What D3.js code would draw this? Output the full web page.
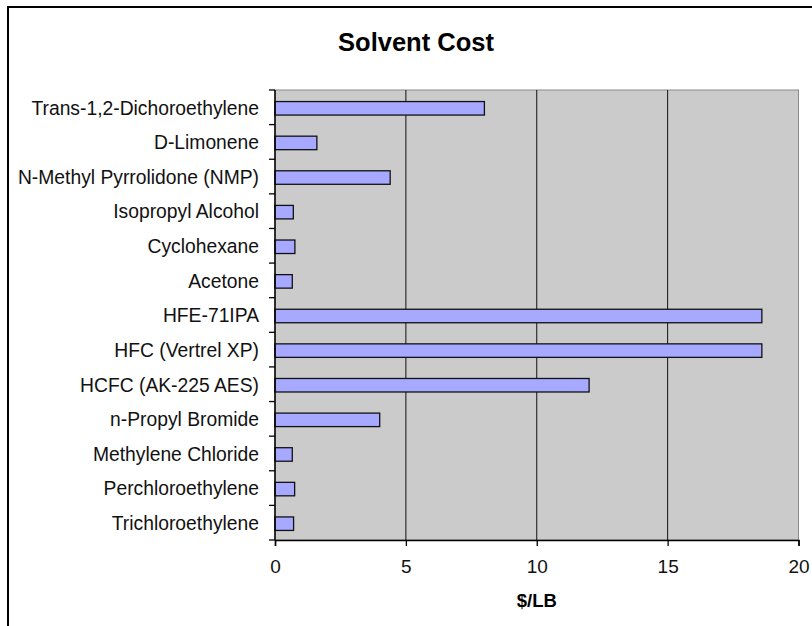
<!DOCTYPE html>
<html>
<head>
<meta charset="utf-8">
<script src="https://cdn.jsdelivr.net/npm/d3@7"></script>
<style>
  html, body { margin: 0; padding: 0; background: #fff; }
  svg { display: block; font-family: "Liberation Sans", Arial, sans-serif; }
</style>
</head>
<body>
<svg id="chart" width="812" height="626"></svg>
<script>
const categories = [
  "Trans-1,2-Dichoroethylene",
  "D-Limonene",
  "N-Methyl Pyrrolidone (NMP)",
  "Isopropyl Alcohol",
  "Cyclohexane",
  "Acetone",
  "HFE-71IPA",
  "HFC (Vertrel XP)",
  "HCFC (AK-225 AES)",
  "n-Propyl Bromide",
  "Methylene Chloride",
  "Perchloroethylene",
  "Trichloroethylene"
];
const costValues = [8.0, 1.6, 4.4, 0.70, 0.76, 0.66, 18.6, 18.6, 12.0, 4.0, 0.66, 0.75, 0.71];
const xTickValues = [0, 5, 10, 15, 20];
const titleText = "Solvent Cost";
const xAxisTitle = "$/LB";

const svg = d3.select("#chart");
const plot = { left: 275, right: 798.5, top: 90, bottom: 540 };

// chart-area border
svg.append("rect")
  .attr("x", 8).attr("y", 7).attr("width", 830).attr("height", 640)
  .attr("fill", "#fff").attr("stroke", "#000").attr("stroke-width", 2);

const x = d3.scaleLinear().domain([0, 20]).range([plot.left, plot.right]);
const y = d3.scaleBand().domain(categories).range([plot.top, plot.bottom]).padding(0);

// plot background
svg.append("rect")
  .attr("x", plot.left).attr("y", plot.top)
  .attr("width", plot.right - plot.left).attr("height", plot.bottom - plot.top)
  .attr("fill", "#cbcbcb").attr("stroke", "#8a8a8a").attr("stroke-width", 1);

// vertical gridlines
svg.append("g").selectAll("line")
  .data(xTickValues.filter(d => d > 0 && d < 20))
  .join("line")
  .attr("x1", d => x(d)).attr("x2", d => x(d))
  .attr("y1", plot.top).attr("y2", plot.bottom)
  .attr("stroke", "#111").attr("stroke-width", 1);

// bars
const barH = y.bandwidth() * 0.39;
svg.append("g").selectAll("rect")
  .data(categories.map((c, i) => ({ c, v: costValues[i] })))
  .join("rect")
  .attr("x", x(0))
  .attr("y", d => y(d.c) + (y.bandwidth() - barH) / 2 + 1)
  .attr("width", d => x(d.v) - x(0))
  .attr("height", barH)
  .attr("fill", "#a6a9ff")
  .attr("stroke", "#111")
  .attr("stroke-width", 1.3);

// y axis (ticks at category boundaries)
const yBoundaries = categories.map(c => y(c)).concat([plot.bottom]);
const yAxisG = svg.append("g");
yAxisG.append("line")
  .attr("x1", plot.left).attr("x2", plot.left)
  .attr("y1", plot.top).attr("y2", plot.bottom)
  .attr("stroke", "#000").attr("stroke-width", 1.5);
yAxisG.selectAll("line.tick").data(yBoundaries).join("line")
  .attr("class", "tick")
  .attr("x1", plot.left - 6).attr("x2", plot.left)
  .attr("y1", d => d).attr("y2", d => d)
  .attr("stroke", "#000").attr("stroke-width", 1.3);
yAxisG.selectAll("text").data(categories).join("text")
  .attr("x", plot.left - 16)
  .attr("y", d => y(d) + y.bandwidth() / 2)
  .attr("dy", "0.38em")
  .attr("text-anchor", "end")
  .attr("font-size", 19.3)
  .attr("fill", "#111")
  .text(d => d);

// x axis
const xAxis = d3.axisBottom(x).tickValues(xTickValues).tickSize(6).tickPadding(14).tickFormat(d3.format("d"));
const xg = svg.append("g").attr("transform", `translate(0,${plot.bottom})`).call(xAxis);
xg.select(".domain").attr("stroke", "#000").attr("stroke-width", 1.5);
xg.selectAll(".tick line").attr("stroke", "#000").attr("stroke-width", 1.3);
xg.selectAll(".tick text").attr("font-size", 19).attr("fill", "#111")
  .attr("font-family", "Liberation Sans, Arial, sans-serif");

// titles
svg.append("text")
  .attr("x", 416).attr("y", 51)
  .attr("text-anchor", "middle")
  .attr("font-size", 25.5).attr("font-weight", "bold")
  .text(titleText);

svg.append("text")
  .attr("x", (plot.left + plot.right) / 2).attr("y", 607)
  .attr("text-anchor", "middle")
  .attr("font-size", 18.5).attr("font-weight", "bold")
  .text(xAxisTitle);
</script>
</body>
</html>
